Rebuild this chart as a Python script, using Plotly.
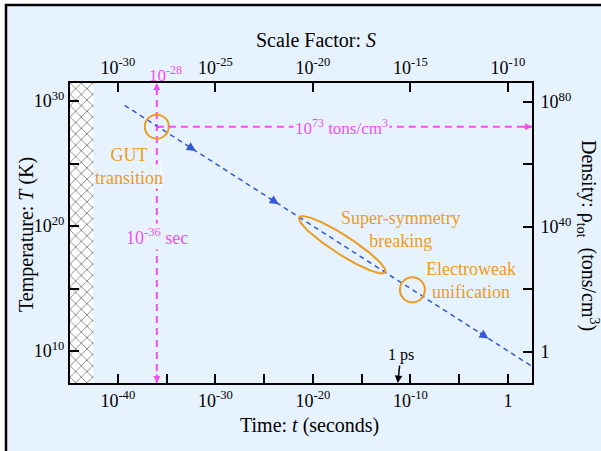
import numpy as np
import plotly.graph_objects as go

# ---------------- data ----------------
time_tickvals = [1e-40, 1e-35, 1e-30, 1e-25, 1e-20, 1e-15, 1e-10, 1e-5, 1]
time_ticktext = ['10<sup>-40</sup>', '', '10<sup>-30</sup>', '', '10<sup>-20</sup>', '',
                 '10<sup>-10</sup>', '', '1']
scale_tickvals = [1e-30, 1e-25, 1e-20, 1e-15, 1e-10]
scale_ticktext = ['10<sup>-30</sup>', '10<sup>-25</sup>', '10<sup>-20</sup>',
                  '10<sup>-15</sup>', '10<sup>-10</sup>']
temp_tickvals = [1e10, 1e15, 1e20, 1e25, 1e30]
temp_ticktext = ['10<sup>10</sup>', '', '10<sup>20</sup>', '', '10<sup>30</sup>']
dens_tickvals = [1, 1e20, 1e40, 1e60, 1e80]
dens_ticktext = ['1', '', '10<sup>40</sup>', '', '10<sup>80</sup>']

# cooling line T ~ t^-1/2 (two end points)
cooling_t = [10**-39.3, 10**2.6]
cooling_T = [10**29.65, 10**8.7]
# arrowheads along the cooling line (log10 values)
arrow_logt = [-32.0, -23.5, -2.0]
arrow_logT = [26.0, 21.75, 11.0]

planck_t = 10**-42.5          # edge of hatched (Planck) region
gut_t = 1e-36                 # GUT time
gut_T = 10**27.95
gut_rho = 10**72.0            # where the density marker is drawn
susy_logt, susy_logT = -17.0, 18.5
ew_t, ew_T = 10**-9.8, 10**14.9
ps_logt = -11.3               # "1 ps" marker position as drawn

# axis ranges (log10)
t_range = [-44.9, 2.46]
S_range = [t_range[0] / 2 - 10, t_range[1] / 2 - 10]
T_range = [7.44, 31.44]
rho_range = [-10.0, 86.0]

# ---------------- styling ----------------
FONT = 'Liberation Serif'
BG = '#e6f2fd'
ORANGE = '#ec9c1e'
MAGENTA = '#f050f0'
BLUE = '#3358d8'

W, H = 601, 451
ML, MR, MT, MB = 70, 69, 83, 68
PW, PH = W - ML - MR, H - MT - MB
sx = PW / (t_range[1] - t_range[0])      # px per decade, time
sy = PH / (T_range[1] - T_range[0])      # px per decade, temperature

fig = go.Figure()

# hatched Planck region
fig.add_trace(go.Scatter(
    x=[1e-47, planck_t, planck_t, 1e-47, 1e-47],
    y=[1e6, 1e6, 1e33, 1e33, 1e6],
    fill='toself', mode='none',
    fillcolor='white',
    fillpattern=dict(shape='x', size=8, solidity=0.22, fgcolor='#111111', bgcolor='white'),
    hoverinfo='skip', showlegend=False))

# magenta vertical line at t = 1e-36
fig.add_trace(go.Scatter(x=[gut_t, gut_t], y=[10**T_range[0], 10**T_range[1]], mode='lines',
                         line=dict(color=MAGENTA, width=2, dash='7px,5px'),
                         hoverinfo='skip', showlegend=False))
# magenta horizontal line (density)
fig.add_trace(go.Scatter(x=[gut_t, 10**t_range[1]], y=[gut_rho, gut_rho], mode='lines',
                         xaxis='x', yaxis='y2',
                         line=dict(color=MAGENTA, width=2, dash='7px,5px'),
                         hoverinfo='skip', showlegend=False))

# cooling line
fig.add_trace(go.Scatter(x=cooling_t, y=cooling_T, mode='lines',
                         line=dict(color=BLUE, width=1.5, dash='5px,4px'),
                         hoverinfo='skip', showlegend=False))

# super-symmetry ellipse (aligned with the line)
phi = np.arctan(0.5 * sy / sx)
th = np.linspace(0, 2 * np.pi, 200)
a_px, b_px = 51, 9.5
u = a_px * np.cos(th) * np.cos(phi) - b_px * np.sin(th) * np.sin(phi)
v = a_px * np.cos(th) * np.sin(phi) + b_px * np.sin(th) * np.cos(phi)
fig.add_trace(go.Scatter(x=10 ** (susy_logt + u / sx), y=10 ** (susy_logT - v / sy),
                         mode='lines', line=dict(color=ORANGE, width=2),
                         hoverinfo='skip', showlegend=False))

# circles
fig.add_trace(go.Scatter(x=[gut_t], y=[gut_T], mode='markers',
                         marker=dict(symbol='circle-open', size=24, color=ORANGE, line=dict(width=2)),
                         hoverinfo='skip', showlegend=False))
fig.add_trace(go.Scatter(x=[ew_t], y=[ew_T], mode='markers',
                         marker=dict(symbol='circle-open', size=25, color=ORANGE, line=dict(width=2)),
                         hoverinfo='skip', showlegend=False))

# invisible trace to activate the top axis
fig.add_trace(go.Scatter(x=[1e-20], y=[1e20], xaxis='x2', yaxis='y', mode='markers',
                         marker=dict(opacity=0), hoverinfo='skip', showlegend=False))

ax_common = dict(type='log', showgrid=False, zeroline=False, showline=True,
                 linecolor='black', linewidth=2, ticks='inside', ticklen=9,
                 tickwidth=1.5, tickcolor='black', tickmode='array',
                 tickfont=dict(family=FONT, size=18, color='black'))

fig.update_layout(
    width=W, height=H,
    margin=dict(l=ML, r=MR, t=MT, b=MB, pad=0),
    paper_bgcolor='white', plot_bgcolor=BG,
    showlegend=False,
    xaxis=dict(**ax_common, range=t_range, tickvals=time_tickvals, ticktext=time_ticktext,
               side='bottom', anchor='y'),
    xaxis2=dict(**ax_common, range=S_range, tickvals=scale_tickvals, ticktext=scale_ticktext,
                side='top', overlaying='x', anchor='y'),
    yaxis=dict(**ax_common, range=T_range, tickvals=temp_tickvals, ticktext=temp_ticktext,
               side='left', anchor='x'),
    yaxis2=dict(**ax_common, range=rho_range, tickvals=dens_tickvals, ticktext=dens_ticktext,
                side='right', overlaying='y', anchor='x', ticklabelstandoff=3),
)

def px2paper(px, py):
    return (px - ML) / PW, (H - MB - py) / PH

# outer frame
fx0, fy1 = px2paper(6, 5)
fig.add_shape(type='rect', xref='paper', yref='paper', x0=fx0, y0=-0.4, x1=1.3, y1=fy1,
              line=dict(color='black', width=2.5), fillcolor=BG, layer='below')

# small box hiding part of the vertical line below "transition"
fig.add_shape(type='rect', xref='x', yref='y', x0=10**-36.29, x1=10**-35.57,
              y0=10**23.04, y1=10**24.88, line=dict(color='white', width=1), fillcolor=BG)

ann = []
def text_ann(px, py, text, size, color='black', angle=0):
    x, y = px2paper(px, py)
    ann.append(dict(xref='paper', yref='paper', x=x, y=y, text=text, showarrow=False,
                    textangle=angle, xanchor='center', yanchor='middle',
                    font=dict(family=FONT, size=size, color=color)))

# axis titles
text_ann(316, 40, 'Scale Factor: <i>S</i>', 20)
text_ann(309, 425, 'Time: <i>t</i> (seconds)', 20)
text_ann(27, 235, 'Temperature: <i>T</i> (K)', 20, angle=-90)
text_ann(588, 235, 'Density: ρ<sub>tot</sub>\u00a0\u00a0(tons/cm<sup>3</sup>)', 20, angle=90)

# orange labels
text_ann(129, 166, 'GUT<br>transition', 18, ORANGE)
text_ann(401, 229, 'Super-symmetry<br>breaking', 18, ORANGE)
text_ann(471, 280, 'Electroweak<br>unification', 18, ORANGE)

# magenta labels
ann.append(dict(xref='x', yref='y', x=np.log10(gut_t), y=T_range[0] + (383 - 236) / sy,
                text='10<sup>-36</sup> sec', showarrow=False, bgcolor=BG,
                font=dict(family=FONT, size=18, color=MAGENTA)))
ann.append(dict(xref='x', yref='y2', x=-17.1, y=np.log10(gut_rho),
                text='10<sup>73</sup> tons/cm<sup>3</sup>', showarrow=False, bgcolor=BG,
                font=dict(family=FONT, size=17, color=MAGENTA)))
ann.append(dict(xref='x', yref='paper', x=np.log10(gut_t) + 0.9, y=1, yshift=9,
                yanchor='middle', text='10<sup>-28</sup>', showarrow=False,
                font=dict(family=FONT, size=17, color=MAGENTA)))

# magenta arrowheads
for kw in (dict(xref='x', yref='paper', x=np.log10(gut_t), y=1, ax=0, ay=10),
           dict(xref='x', yref='paper', x=np.log10(gut_t), y=0, ax=0, ay=-10),
           dict(xref='paper', yref='y2', x=1, y=np.log10(gut_rho), ax=-10, ay=0)):
    ann.append(dict(**kw, text='', showarrow=True, arrowhead=2, arrowsize=0.7,
                    arrowwidth=2, arrowcolor=MAGENTA))

# blue arrowheads along the line
for lt, lT in zip(arrow_logt, arrow_logT):
    ann.append(dict(xref='x', yref='y', x=lt, y=lT,
                    ax=-12 * np.cos(phi), ay=-12 * np.sin(phi), text='',
                    showarrow=True, arrowhead=2, arrowsize=1.2, arrowwidth=1.5, arrowcolor=BLUE))

# 1 ps marker
ann.append(dict(xref='x', yref='paper', x=ps_logt, y=0, ax=3, ay=-28, text='1 ps',
                showarrow=True, arrowhead=2, arrowsize=1, arrowwidth=1.5, arrowcolor='black',
                font=dict(family=FONT, size=16, color='black')))

fig.update_layout(annotations=ann)
fig.write_html('out.html')
